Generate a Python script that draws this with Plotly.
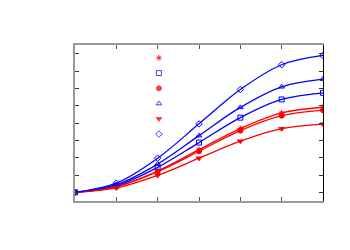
import plotly.graph_objects as go

x_vals = [0, 1, 2, 3, 4, 5, 6]

s_asterisk = [0, 0.33, 1.23, 2.46, 3.68, 4.58, 4.91]
s_square = [0, 0.38, 1.44, 2.87, 4.31, 5.36, 5.74]
s_circle = [0, 0.32, 1.19, 2.37, 3.56, 4.42, 4.74]
s_tri_up = [0, 0.44, 1.63, 3.27, 4.90, 6.09, 6.53]
s_tri_down = [0, 0.26, 0.98, 1.97, 2.95, 3.67, 3.93]
s_diamond = [0, 0.53, 1.97, 3.95, 5.93, 7.36, 7.90]

RED = "#ff0000"
BLUE = "#0000ff"

series = [
    (s_asterisk, RED, "asterisk-open"),
    (s_square, BLUE, "square-open"),
    (s_circle, RED, "circle"),
    (s_tri_up, BLUE, "triangle-up-open"),
    (s_tri_down, RED, "triangle-down"),
    (s_diamond, BLUE, "diamond-open"),
]

# key (legend) placement, data units
KEY_X = 2.03
KEY_TOP = 7.76
KEY_STEP = 0.88

fig = go.Figure()
for vals, col, sym in series:
    fig.add_trace(go.Scatter(
        x=x_vals, y=vals, mode="lines+markers",
        line=dict(color=col, width=1.3, shape="spline", smoothing=1.0),
        marker=dict(symbol=sym, size=5, color=col, line=dict(color=col, width=1)),
        showlegend=False, hoverinfo="skip",
    ))

for i, (vals, col, sym) in enumerate(series):
    fig.add_trace(go.Scatter(
        x=[KEY_X], y=[KEY_TOP - i * KEY_STEP], mode="markers",
        marker=dict(symbol=sym, size=5, color=col, opacity=0.75,
                    line=dict(color=col, width=1)),
        showlegend=False, hoverinfo="skip",
    ))

# right-side axis (black)
fig.add_trace(go.Scatter(x=[None], y=[None], yaxis="y2", showlegend=False))

fig.update_layout(
    width=350, height=250,
    margin=dict(l=67, r=35, t=37, b=57),
    paper_bgcolor="white", plot_bgcolor="white",
    showlegend=False,
    xaxis=dict(range=[0, 6], tickvals=x_vals, showticklabels=False,
               showgrid=False, zeroline=False, showline=True,
               linecolor="#9a9a9a", linewidth=2, mirror="ticks",
               ticks="inside", ticklen=4, tickcolor="#555555", tickwidth=1),
    yaxis=dict(range=[-0.5, 8.5], tickvals=[0, 1, 2, 3, 4, 5, 6, 7, 8],
               showticklabels=False, showgrid=False, zeroline=False,
               showline=True, linecolor="#9a9a9a", linewidth=2,
               ticks="inside", ticklen=4, tickcolor="#333333", tickwidth=1),
    yaxis2=dict(range=[-0.5, 8.5], tickvals=[0, 1, 2, 3, 4, 5, 6, 7, 8],
                showticklabels=False, showgrid=False, zeroline=False,
                overlaying="y", side="right", showline=True,
                linecolor="#000000", linewidth=1,
                ticks="inside", ticklen=4, tickcolor="#333333", tickwidth=1),
)

fig.write_html("out.html")
